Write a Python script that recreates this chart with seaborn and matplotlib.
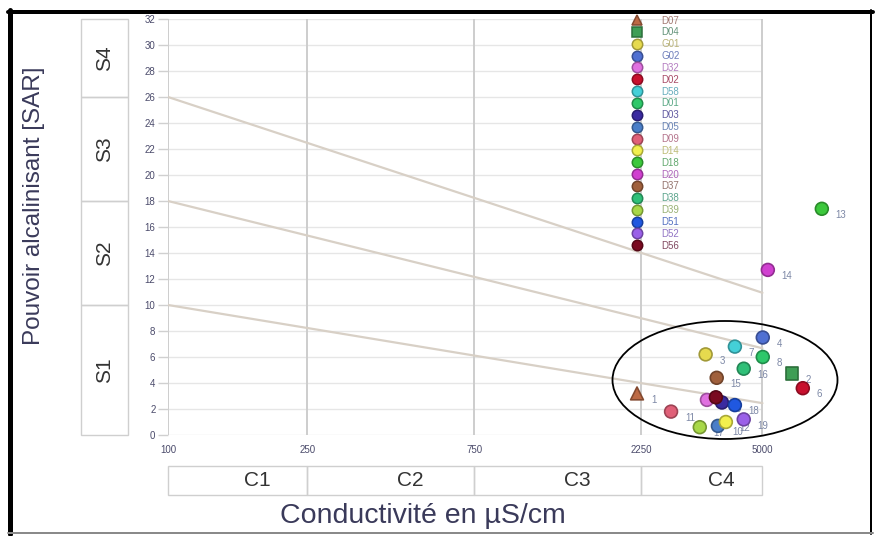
import numpy as np
import pandas as pd
import matplotlib
matplotlib.use("Agg")
import matplotlib.pyplot as plt
import seaborn as sns
from matplotlib.lines import Line2D
from matplotlib.patches import Rectangle, Ellipse
from matplotlib.ticker import NullLocator
from matplotlib import colors as mcolors

# --- sampling sites (legend order) ---------------------------------------
sites = ["D07", "D04", "G01", "G02", "D32", "D02", "D58", "D01", "D03", "D05",
         "D09", "D14", "D18", "D20", "D37", "D38", "D39", "D51", "D52", "D56"]
site_numbers = list(range(1, len(sites) + 1))
conductivity = [2190, 6070, 3440, 5010, 3470, 6520, 4170, 5010, 3830, 3730,
                2740, 3930, 7390, 5180, 3700, 4420, 3310, 4170, 4420, 3680]
sar = [3.2, 4.7, 6.2, 7.5, 2.7, 3.6, 6.8, 6.0, 2.5, 0.7,
       1.8, 1.0, 17.4, 12.7, 4.4, 5.1, 0.6, 2.3, 1.2, 2.9]
site_colors = ["#bd6a45", "#3f9e55", "#e6da4e", "#5070d2", "#e070e0",
               "#c8102e", "#44d0d8", "#2ec86a", "#3a2aa0", "#4a7ec8",
               "#e06078", "#f2f04e", "#3cc83c", "#d040d0", "#a0603c",
               "#30c078", "#a8d848", "#2058e0", "#9a60e8", "#7a0a20"]
site_markers = ["^", "s"] + ["o"] * 18

# --- axes and class definitions (Richards diagram) -----------------------
ec_ticks = [100, 250, 750, 2250, 5000]
sar_ticks = list(range(0, 33, 2))
c_classes = ["C1", "C2", "C3", "C4"]
s_classes = ["S1", "S2", "S3", "S4"]
s_bounds = [0, 10, 18, 26, 32]
boundary_sar_at_100 = [10, 18, 26]
boundary_sar_at_5000 = [2.45, 6.67, 10.94]


def darken(c, f=0.7):
    r, g, b = mcolors.to_rgb(c)
    return (r * f, g * f, b * f)


def tint(c, grey="#8a8aa2", w=0.5):
    a = np.array(mcolors.to_rgb(c))
    g = np.array(mcolors.to_rgb(grey))
    return tuple(a * w + g * (1 - w))


sns.set_theme(style="white")
plt.rcParams["font.family"] = ["Liberation Sans", "DejaVu Sans"]

W, H = 875, 536
fig = plt.figure(figsize=(W / 100, H / 100), dpi=100)
fig.patch.set_facecolor("white")
ax = fig.add_axes([168 / W, (H - 435) / H, 692 / W, 416 / H])
ax.set_xscale("log")
ax.set_xlim(100, 9500)
ax.set_ylim(0, 32)
for sp in ax.spines.values():
    sp.set_visible(False)

# grid limited to the diagram area
ax.hlines(sar_ticks, 100, 5000, color="#e6e6e6", lw=1, zorder=0)
ax.vlines(ec_ticks, 0, 32, color="#cdcdcd", lw=1.4, zorder=0.5)
for a, b in zip(boundary_sar_at_100, boundary_sar_at_5000):
    ax.plot([100, 5000], [a, b], color="#d8d0c6", lw=1.6, zorder=1)

df = pd.DataFrame({"site": sites, "ec": conductivity, "sar": sar,
                   "num": site_numbers})
palette = dict(zip(sites, site_colors))
markers = dict(zip(sites, site_markers))
sns.scatterplot(data=df, x="ec", y="sar", hue="site", style="site",
                palette=palette, markers=markers, s=85, linewidth=1.2,
                ax=ax, legend=False, zorder=4, clip_on=False)
ax.collections[-1].set_edgecolors([darken(c) for c in site_colors])

for x, y, n in zip(df["ec"], df["sar"], df["num"]):
    ax.annotate(str(n), (x, y), xytext=(10, -4.5), textcoords="offset points",
                fontsize=7, color="#7d88a6", ha="left", va="center",
                zorder=3, annotation_clip=False)

ax.set_xlabel("")
ax.set_ylabel("")
ax.set_yticks(sar_ticks)
ax.set_yticklabels([str(t) for t in sar_ticks])
ax.set_xticks(ec_ticks)
ax.set_xticklabels([str(t) for t in ec_ticks])
ax.xaxis.set_minor_locator(NullLocator())
ax.tick_params(axis="y", left=True, length=7, width=1, color="#d0d0d0",
               labelsize=7, labelcolor="#4b4b6b", pad=2)
ax.tick_params(axis="x", bottom=False, length=0, labelsize=7,
               labelcolor="#4b4b6b", pad=7)

# legend
handles = [Line2D([], [], marker=m, linestyle="", markersize=7.5,
                  markerfacecolor=c, markeredgecolor=darken(c),
                  markeredgewidth=1.1)
           for m, c in zip(site_markers, site_colors)]
leg = ax.legend(handles, sites, loc="upper left",
                bbox_to_anchor=(631 / W, 1 - 15.5 / H),
                bbox_transform=fig.transFigure, frameon=False, fontsize=7,
                labelspacing=0.19, handlelength=1.2, handletextpad=1.9,
                borderpad=0, borderaxespad=0)
leg.set_zorder(6)
for t, c in zip(leg.get_texts(), site_colors):
    t.set_color(tint(c))

# S class boxes along the SAR axis
ytr = ax.get_yaxis_transform()
bx0, bx1 = (81 - 168) / 692, (128 - 168) / 692
for name, lo, hi in zip(s_classes, s_bounds[:-1], s_bounds[1:]):
    ax.add_patch(Rectangle((bx0, lo), bx1 - bx0, hi - lo, transform=ytr,
                           fill=False, edgecolor="#cfcfcf", lw=1,
                           clip_on=False))
    ax.text((bx0 + bx1) / 2, (lo + hi) / 2, name, transform=ytr, rotation=90,
            ha="center", va="center", fontsize=15, color="#333333")

# C class boxes along the conductivity axis
xtr = ax.get_xaxis_transform()
by0, by1 = (435 - 495) / 416, (435 - 466) / 416
for name, lo, hi in zip(c_classes, ec_ticks[:-1], ec_ticks[1:]):
    ax.add_patch(Rectangle((lo, by0), hi - lo, by1 - by0, transform=xtr,
                           fill=False, edgecolor="#cfcfcf", lw=1,
                           clip_on=False))
    ax.annotate(name, (np.sqrt(lo * hi), (by0 + by1) / 2), xycoords=xtr,
                xytext=(14, 0), textcoords="offset points", ha="center",
                va="center", fontsize=15, color="#333333",
                annotation_clip=False)

fig.text(34 / W, 1 - 206 / H, "Pouvoir alcalinisant [SAR]", rotation=90,
         ha="center", va="center", fontsize=17.5, color="#3a3a5a")
fig.text(423 / W, 1 - 516 / H, "Conductivité en µS/cm", ha="center",
         va="center", fontsize=20.5, color="#3a3a5a")

# highlight of the main cluster
fig.add_artist(Ellipse((725 / W, 1 - 380 / H), 225 / W, 118 / H,
                       transform=fig.transFigure, fill=False,
                       edgecolor="black", lw=1.3, zorder=5))

# frame around the figure
px = lambda v: v * 72 / 100
fig.add_artist(Line2D([8 / W, 873 / W], [1 - 12 / H, 1 - 12 / H],
                      transform=fig.transFigure, color="black", lw=px(4)))
fig.add_artist(Line2D([10 / W, 10 / W], [1 - 10 / H, 1 - 534 / H],
                      transform=fig.transFigure, color="black", lw=px(5)))
fig.add_artist(Line2D([871 / W, 871 / W], [1 - 10 / H, 1 - 534 / H],
                      transform=fig.transFigure, color="black", lw=px(2)))
fig.add_artist(Line2D([8 / W, 873 / W], [1 - 533 / H, 1 - 533 / H],
                      transform=fig.transFigure, color="#8a8a8a", lw=px(2)))

fig.savefig("out.png", dpi=100)
